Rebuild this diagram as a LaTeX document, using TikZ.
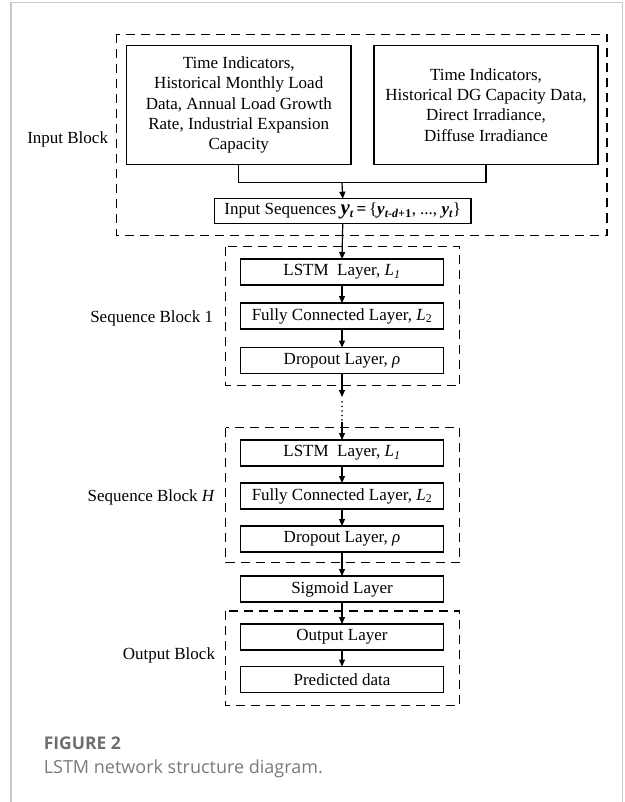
\documentclass[tikz,border=0pt]{standalone}
\usepackage{fontspec}
\setmainfont{Liberation Serif}
\newfontfamily\capfont{Open Sans}
\usetikzlibrary{arrows.meta}
\definecolor{framegray}{HTML}{C8C8C8}
\definecolor{figgray}{HTML}{6E6E6E}
\definecolor{capgray}{HTML}{7A7A7A}
\begin{document}
\begin{tikzpicture}[x=1pt,y=-1pt,
  every node/.style={font=\fontsize{17}{20.3}\selectfont, inner sep=0pt, outer sep=0pt},
  box/.style={draw, line width=1.1pt, minimum width=203.5pt, minimum height=26pt, align=center},
  bigbox/.style={draw, line width=1.1pt, minimum width=224.5pt, minimum height=118.6pt, align=center},
  blockframe/.style={draw, line width=1.2pt, dash pattern=on 9pt off 6pt},
  conn/.style={line width=1.2pt},
  arr/.style={line width=1.2pt, -{Triangle[length=7pt,width=6pt]}},
  lbl/.style={anchor=east}
]
\useasboundingbox (0,0) rectangle (624,802);
% outer page frame
\draw[framegray, line width=1.3pt] (11,802) -- (11,2.5) -- (622.5,2.5) -- (622.5,802);

% block frames
\draw[blockframe] (116.6,34.3) rectangle (607,235.7);
\draw[blockframe] (225.5,246.5) rectangle (459.5,385.5);
\draw[blockframe] (225.5,427.7) rectangle (459.5,562.7);
\draw[blockframe] (225.5,611) rectangle (459.5,705.7);

% block labels
\node[lbl] (linput) at (108,139) {Input Block};
\node[lbl] (lseq1) at (213,318) {Sequence Block 1};
\node[lbl] (lseqH) at (215,497) {Sequence Block \textit{H}};
\node[lbl] (lout) at (215,655) {Output Block};

% input boxes
\node[bigbox] (lbox) at (238.75,105) {Time Indicators,\\ Historical Monthly Load\\ Data, Annual Load Growth\\ Rate, Industrial Expansion\\ Capacity};
\node[bigbox, minimum width=224pt] (rbox) at (486,105) {Time Indicators,\\ Historical DG Capacity Data,\\ Direct Irradiance,\\ Diffuse Irradiance};
\node[box, minimum width=256.5pt, minimum height=24.6pt] (inseq) at (342.75,211) {Input Sequences {\fontsize{21}{21}\selectfont\bfseries\itshape y}\textsubscript{\bfseries\itshape t}\,\textbf{=}\,\{\textbf{\textit{y}}\textsubscript{\bfseries\itshape t-d+}\textsubscript{\bfseries 1}, ..., \textbf{\textit{y}}\textsubscript{\bfseries\itshape t}\}};

% sequence block 1
\node[box] (lstm1) at (342,272) {LSTM\ \ Layer, \textit{L}\textsubscript{\textit{1}}};
\node[box] (fc1) at (342,316) {Fully Connected Layer, \textit{L}\textsubscript{2}};
\node[box] (drop1) at (342,360.5) {Dropout Layer, \textit{ρ}};

% sequence block H
\node[box] (lstmH) at (342,453) {LSTM\ \ Layer, \textit{L}\textsubscript{\textit{1}}};
\node[box] (fcH) at (342,496) {Fully Connected Layer, \textit{L}\textsubscript{2}};
\node[box] (dropH) at (342,539) {Dropout Layer, \textit{ρ}};

% sigmoid and output
\node[box] (sig) at (342,589) {Sigmoid Layer};
\node[box] (outl) at (342,637) {Output Layer};
\node[box] (pred) at (342,679.5) {Predicted data};

% connectors
\coordinate (join) at (342,182.7);
\draw[conn] (lbox.south) |- (join) -| (rbox.south);
\draw[arr] (join) -- (inseq.north);
\draw[arr] (inseq.south) -- (lstm1.north);
\draw[arr] (lstm1.south) -- (fc1.north);
\draw[arr] (fc1.south) -- (drop1.north);
\coordinate (gapA) at (342,397);
\coordinate (dotA) at (342,402);
\coordinate (dotB) at (342,421);
\coordinate (gapB) at (342,422);
\draw[arr] (drop1.south) -- (gapA);
\draw[line width=1.6pt, line cap=round, dash pattern=on 0pt off 4.5pt] (dotA) -- (dotB);
\draw[arr] (gapB) -- (lstmH.north);
\draw[arr] (lstmH.south) -- (fcH.north);
\draw[arr] (fcH.south) -- (dropH.north);
\draw[arr] (dropH.south) -- (sig.north);
\draw[arr] (sig.south) -- (outl.north);
\draw[arr] (outl.south) -- (pred.north);

% caption
\node[anchor=base west, text=figgray, font={\capfont\fontsize{17.5}{20}\selectfont\bfseries}] (fig) at (43.8,749.3) {FIGURE 2};
\node[anchor=base west, text=capgray, font={\capfont\fontsize{18}{20}\selectfont}] (cap) at (43.8,773) {LSTM network structure diagram.};
\end{tikzpicture}
\end{document}
